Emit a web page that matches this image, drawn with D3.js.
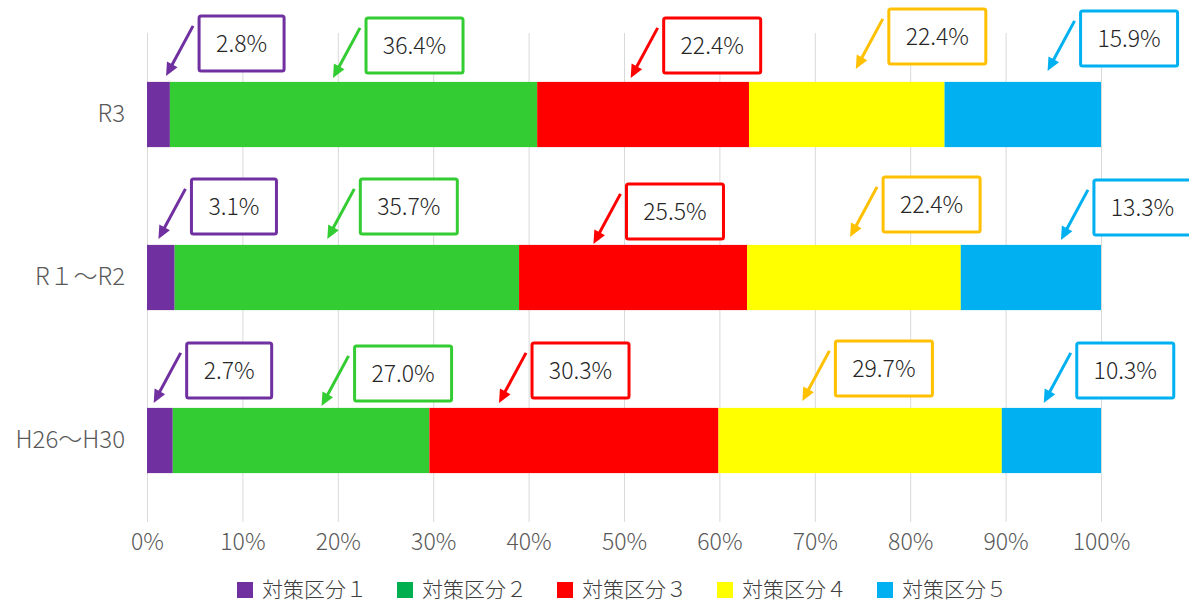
<!DOCTYPE html>
<html>
<head>
<meta charset="utf-8">
<script src="https://cdn.jsdelivr.net/npm/d3@7"></script>
<style>
  body { margin: 0; background: #fff; }
  text { font-family: "Noto Sans CJK JP", "Noto Sans", sans-serif; }
</style>
</head>
<body>
<div id="chart"></div>
<script>
// categories, top to bottom
const categories = ["R3", "R１～R2", "H26～H30"];
const seriesNames = ["対策区分１", "対策区分２", "対策区分３", "対策区分４", "対策区分５"];

// bar lengths (%) as drawn
const share1 = [2.4, 2.9, 2.7];
const share2 = [38.5, 36.1, 26.9];
const share3 = [22.2, 23.9, 30.3];
const share4 = [20.5, 22.4, 29.7];
const share5 = [16.4, 14.7, 10.4];

// callout texts
const label1 = ["2.8%", "3.1%", "2.7%"];
const label2 = ["36.4%", "35.7%", "27.0%"];
const label3 = ["22.4%", "25.5%", "30.3%"];
const label4 = ["22.4%", "22.4%", "29.7%"];
const label5 = ["15.9%", "13.3%", "10.3%"];

const xTicks = [0, 10, 20, 30, 40, 50, 60, 70, 80, 90, 100];

// styles
const barColors = ["#7030A0", "#33CC33", "#FF0000", "#FFFF00", "#00B0F0"];
const legendColors = ["#7030A0", "#00B050", "#FF0000", "#FFFF00", "#00B0F0"];
const calloutColors = ["#7030A0", "#33CC33", "#FF0000", "#FFC000", "#00B0F0"];

// where each callout arrow points (% along the axis) and how far above the bar
const calloutTip = [
  [2.0, 19.5, 50.7, 74.3, 94.4],
  [1.2, 18.9, 46.8, 73.7, 95.8],
  [0.7, 18.3, 36.9, 68.7, 94.0]
];
const calloutLift = [
  [6, 4, 4, 13, 11],
  [6, 6, 1, 8, 5],
  [5, 2, 5, 7, 5]
];

const W = 1189, H = 602;
const margin = { top: 33, right: 88, bottom: 80, left: 147 };
const width = W - margin.left - margin.right;
const height = H - margin.top - margin.bottom;

const shares = [share1, share2, share3, share4, share5];
const labels = [label1, label2, label3, label4, label5];
const keys = d3.range(5).map(i => "s" + i);
const rows = categories.map((c, j) => {
  const r = { cat: c };
  keys.forEach((k, i) => r[k] = shares[i][j]);
  return r;
});
const stacked = d3.stack().keys(keys)(rows);

const x = d3.scaleLinear().domain([0, 100]).range([0, width]);
const y = d3.scaleBand().domain(categories).range([0, height])
  .paddingInner(0.6).paddingOuter(0.3);

const svg = d3.select("#chart").append("svg")
  .attr("width", W).attr("height", H);
const g = svg.append("g")
  .attr("transform", `translate(${margin.left},${margin.top})`);

// gridlines
g.append("g").selectAll("line")
  .data(xTicks).enter().append("line")
  .attr("x1", d => x(d) + 0.5).attr("x2", d => x(d) + 0.5)
  .attr("y1", 0).attr("y2", height)
  .attr("stroke", "#d9d9d9").attr("stroke-width", 1);

// x tick labels
g.append("g")
  .attr("transform", `translate(0,${height})`)
  .call(d3.axisBottom(x).tickValues(xTicks).tickSize(0).tickPadding(12)
    .tickFormat(d => d + "%"))
  .call(a => a.select(".domain").remove())
  .selectAll("text")
  .attr("fill", "#595959")
  .style("font-size", "23px")
  .style("font-family", '"Noto Sans CJK JP", sans-serif')
  .style("font-weight", 300);

// category labels
g.append("g")
  .call(d3.axisLeft(y).tickSize(0).tickPadding(22))
  .call(a => a.select(".domain").remove())
  .selectAll("text")
  .attr("fill", "#595959")
  .style("font-size", "24px")
  .style("font-family", '"Noto Sans CJK JP", sans-serif')
  .style("font-weight", 300);

// bars
g.append("g").selectAll("g")
  .data(stacked).enter().append("g")
  .attr("fill", (d, i) => barColors[i])
  .selectAll("rect")
  .data(d => d).enter().append("rect")
  .attr("x", d => x(d[0]))
  .attr("width", d => x(d[1]) - x(d[0]))
  .attr("y", d => y(d.data.cat))
  .attr("height", y.bandwidth());

// callouts: arrow + framed label
const callouts = [];
categories.forEach((c, j) => {
  seriesNames.forEach((s, i) => {
    callouts.push({ j, i, cat: c, text: labels[i][j],
      tip: calloutTip[j][i], lift: calloutLift[j][i] });
  });
});

const cg = g.append("g").selectAll("g")
  .data(callouts).enter().append("g")
  .attr("transform", d => `translate(${x(d.tip)},${y(d.cat) - d.lift})`);

const dx = 27, dy = -50, head = 13;
const ang = Math.atan2(dy, dx);
cg.append("line")
  .attr("x1", dx).attr("y1", dy)
  .attr("x2", Math.cos(ang) * head * 0.8).attr("y2", Math.sin(ang) * head * 0.8)
  .attr("stroke", d => calloutColors[d.i])
  .attr("stroke-width", 3);
cg.append("path")
  .attr("d", () => {
    const px = Math.cos(ang), py = Math.sin(ang);
    const bx = px * head, by = py * head;
    const w = 6;
    return `M0,0 L${bx - py * w},${by + px * w} L${bx + py * w},${by - px * w} Z`;
  })
  .attr("fill", d => calloutColors[d.i]);

const boxes = cg.append("g").attr("transform", "translate(33,-60)");
const rectSel = boxes.append("rect")
  .attr("height", 55).attr("rx", 2)
  .attr("fill", "#fff")
  .attr("stroke", d => calloutColors[d.i])
  .attr("stroke-width", 3);
const txt = boxes.append("text")
  .attr("y", 28).attr("dy", "0.35em")
  .attr("text-anchor", "middle")
  .attr("fill", "#262626")
  .style("font-size", "23px")
  .style("font-weight", 300)
  .text(d => d.text);
txt.each(function (d) { d.tw = this.getComputedTextLength(); });
rectSel.attr("width", d => Math.round(d.tw + 34));
txt.attr("x", d => Math.round(d.tw + 34) / 2);

// legend
const legend = svg.append("g").attr("transform", "translate(237,590)");
const item = legend.selectAll("g")
  .data(seriesNames).enter().append("g")
  .attr("transform", (d, i) => `translate(${i * 160},0)`);
item.append("rect")
  .attr("x", 0).attr("y", -8).attr("width", 16).attr("height", 16)
  .attr("fill", (d, i) => legendColors[i]);
item.append("text")
  .attr("x", 25).attr("dy", "0.35em")
  .attr("fill", "#404040")
  .style("font-size", "21px")
  .style("font-weight", 300)
  .text(d => d);
</script>
</body>
</html>
